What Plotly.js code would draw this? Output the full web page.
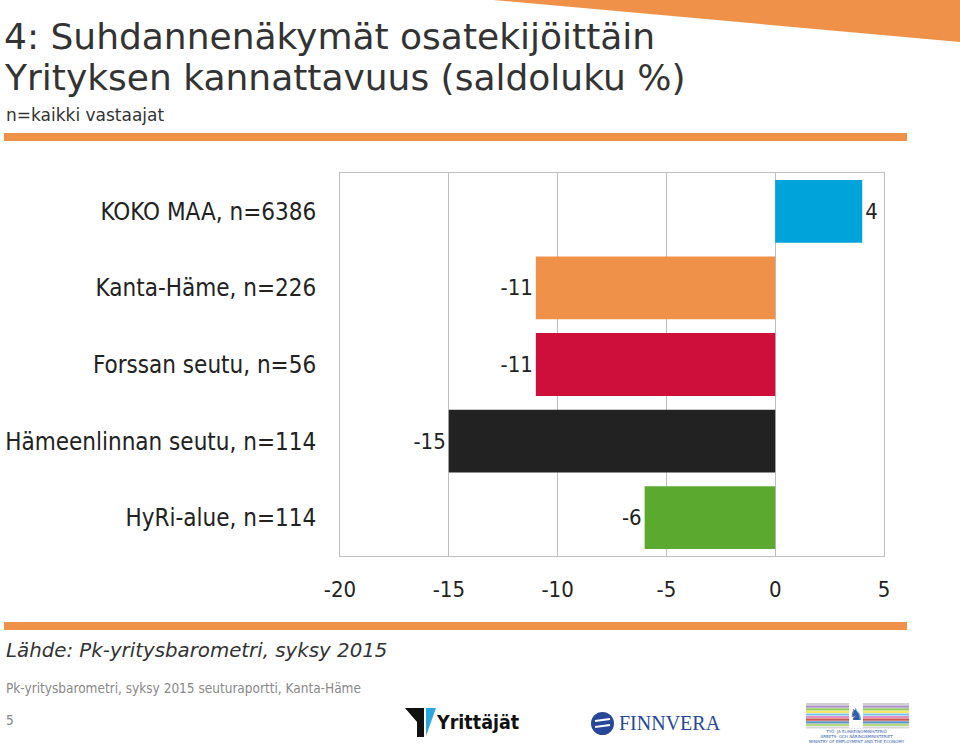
<!DOCTYPE html>
<html>
<head>
<meta charset="utf-8">
<script src="https://cdn.plot.ly/plotly-3.0.1.min.js"></script>
<style>html,body{margin:0;padding:0;background:#fff;}#chart{width:960px;height:744px;}</style>
</head>
<body>
<div id="chart"></div>
<script>
// ---- data ----
const categories = ["KOKO MAA, n=6386", "Kanta-Häme, n=226", "Forssan seutu, n=56", "Hämeenlinnan seutu, n=114", "HyRi-alue, n=114"];
const values = [4, -11, -11, -15, -6];
const barColors = ["#00A3DA", "#F0914A", "#CE0E3B", "#222222", "#5BAA2F"];
const tickValues = [-20, -15, -10, -5, 0, 5];
const tickLabels = ["-20", "-15", "-10", "-5", "0", "5"];

const titleLine1 = "4: Suhdannenäkymät osatekijöittäin";
const titleLine2 = "Yrityksen kannattavuus (saldoluku %)";
const subtitle = "n=kaikki vastaajat";
const sourceText = "Lähde: Pk-yritysbarometri, syksy 2015";
const footerText = "Pk-yritysbarometri, syksy 2015 seuturaportti, Kanta-Häme";
const pageNumber = "5";

// ---- layout helpers (pixel -> paper) ----
const W = 960, H = 744;
const L = 340, R = 884, T = 173, B = 556;
const px = x => (x - L) / (R - L);
const py = y => (B - y) / (B - T);
const FONT = "DejaVu Sans, sans-serif";
const FONT_C = "DejaVu Sans Condensed, DejaVu Sans, sans-serif";
const ORANGE = "#F0914A";

const trace = {
  type: "bar",
  orientation: "h",
  y: categories,
  x: values,
  marker: {color: barColors, line: {width: 0}},
  text: values.map(String),
  textposition: "outside",
  textfont: {family: FONT_C, size: 22, color: "#222222"},
  cliponaxis: false,
  hoverinfo: "x+y"
};

const shapes = [
  {type: "path", xref: "paper", yref: "paper",
   path: `M ${px(493)} ${py(0)} L ${px(960)} ${py(0)} L ${px(960)} ${py(42)} Z`,
   fillcolor: ORANGE, line: {width: 0}, layer: "below"},
  {type: "rect", xref: "paper", yref: "paper", x0: px(4), x1: px(907), y0: py(133), y1: py(141),
   fillcolor: ORANGE, line: {width: 0}},
  {type: "rect", xref: "paper", yref: "paper", x0: px(4), x1: px(907), y0: py(622), y1: py(630),
   fillcolor: ORANGE, line: {width: 0}},
  {type: "path", xref: "paper", yref: "paper",
   path: `M ${px(405)} ${py(708)} L ${px(424)} ${py(708)} L ${px(424)} ${py(737)} L ${px(417)} ${py(737)} L ${px(417)} ${py(722)} Z`,
   fillcolor: "#111111", line: {width: 0}},
  {type: "path", xref: "paper", yref: "paper",
   path: `M ${px(426)} ${py(708)} L ${px(436)} ${py(708)} L ${px(426)} ${py(736)} Z`,
   fillcolor: "#2AA7DF", line: {width: 0}},
  {type: "circle", xref: "paper", yref: "paper", x0: px(591), x1: px(614), y0: py(712), y1: py(735),
   fillcolor: "#27489A", line: {width: 0}},
  {type: "line", xref: "paper", yref: "paper", x0: px(595), x1: px(610), y0: py(721), y1: py(719),
   line: {color: "#ffffff", width: 2}},
  {type: "line", xref: "paper", yref: "paper", x0: px(595), x1: px(610), y0: py(727), y1: py(725),
   line: {color: "#ffffff", width: 2}}
];

const stripeColors = ["#C9C9C9", "#9E7FC0", "#7CC242", "#F3E24A", "#5CB6E6", "#E07BB5", "#C0392B", "#3D7FC2", "#A7D26B", "#D0D0D0"];
stripeColors.forEach((c, i) => {
  const y0 = 703 + i * 2.6;
  shapes.push({type: "rect", xref: "paper", yref: "paper", x0: px(806), x1: px(909),
    y0: py(y0), y1: py(y0 + 2.2), fillcolor: c, opacity: 0.85, line: {width: 0}});
});
shapes.push({type: "rect", xref: "paper", yref: "paper", x0: px(849), x1: px(863), y0: py(701), y1: py(728),
  fillcolor: "#ffffff", line: {width: 0}});

const ann = (text, x, y, size, opts = {}) => Object.assign({
  text, xref: "paper", yref: "paper", x: px(x), y: py(y), xanchor: "left", yanchor: "middle",
  showarrow: false, font: {family: FONT, size, color: "#333333"}
}, opts);

const annotations = [
  ann(titleLine1, 2, 36, 36, {font: {family: FONT, size: 36, color: "#333333"}}),
  ann(titleLine2, 2, 77, 36, {font: {family: FONT, size: 36, color: "#333333"}}),
  ann(subtitle, 4, 115, 17),
  ann("<i>" + sourceText + "</i>", 4, 650, 19.8),
  ann(footerText, 4, 688, 13.5, {font: {family: FONT_C, size: 13.5, color: "#888888"}}),
  ann(pageNumber, 4, 720, 13.5, {font: {family: FONT_C, size: 13.5, color: "#888888"}}),
  ann("<b>Yrittäjät</b>", 434, 722, 19.5, {font: {family: FONT_C, size: 19.5, color: "#111111"}}),
  ann("FINNVERA", 617, 723, 20, {font: {family: "Liberation Serif, DejaVu Serif, serif", size: 20, color: "#27489A"}}),
  ann("♞", 856, 714, 16, {xanchor: "center", font: {family: "DejaVu Sans", size: 16, color: "#2F5FA8"}}),
  ann("TYÖ- JA ELINKEINOMINISTERIÖ<br>ARBETS- OCH NÄRINGSMINISTERIET<br>MINISTRY OF EMPLOYMENT AND THE ECONOMY", 857, 736, 4,
      {xanchor: "center", font: {family: "DejaVu Sans", size: 4, color: "#2F5FA8"}})
];

const layout = {
  width: W, height: H,
  margin: {l: L, r: W - R, t: T, b: H - B, pad: 0},
  paper_bgcolor: "#ffffff", plot_bgcolor: "#ffffff",
  showlegend: false,
  bargap: 0.18,
  xaxis: {
    range: [-20, 5], tickvals: tickValues, ticktext: tickLabels,
    showgrid: true, gridcolor: "#BFBFBF", gridwidth: 1,
    zeroline: false,
    showline: true, linecolor: "#BFBFBF", linewidth: 1, mirror: true,
    ticks: "outside", ticklen: 14, tickcolor: "rgba(0,0,0,0)",
    tickfont: {family: FONT_C, size: 22, color: "#222222"},
    fixedrange: true
  },
  yaxis: {
    type: "category", autorange: "reversed",
    showgrid: false, zeroline: false,
    showline: true, linecolor: "#BFBFBF", linewidth: 1, mirror: true,
    ticks: "outside", ticklen: 18, tickcolor: "rgba(0,0,0,0)",
    tickfont: {family: FONT_C, size: 24, color: "#222222"},
    fixedrange: true
  },
  shapes, annotations
};

Plotly.newPlot("chart", [trace], layout, {displayModeBar: false, staticPlot: true});
</script>
</body>
</html>
